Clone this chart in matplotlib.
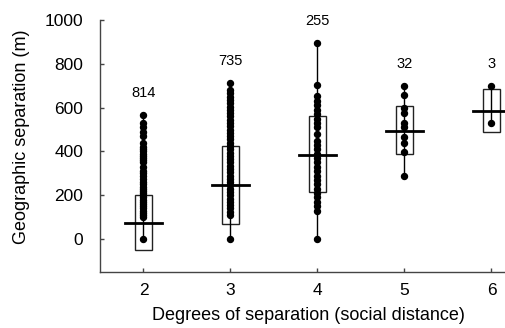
import matplotlib
matplotlib.use("Agg")
import matplotlib.pyplot as plt
from matplotlib.patches import Rectangle

plt.rcParams['font.family'] = ['Liberation Sans', 'DejaVu Sans']

degrees = [2, 3, 4, 5, 6]
counts = ["814", "735", "255", "32", "3"]
means = [73, 245, 386, 494, 585]
box_low = [-49, 70, 213, 388, 489]
box_high = [202, 427, 564, 608, 684]

pts_2 = [0, 100, 110, 120, 130, 140, 150, 160, 170, 180, 190, 200, 210, 220, 230,
         240, 250, 260, 275, 290, 300, 310, 330, 350, 360, 370, 380, 390, 400, 410,
         420, 440, 470, 490, 510, 530, 565]
pts_3 = [0, 110, 125, 140, 155, 170, 185, 200, 215, 230, 245, 260, 275, 290, 305,
         320, 335, 350, 365, 380, 395, 410, 425, 440, 455, 470, 485, 500, 515, 530,
         545, 560, 575, 590, 605, 620, 635, 650, 665, 680, 711]
pts_4 = [0, 130, 150, 170, 190, 210, 230, 250, 270, 290, 310, 330, 350, 370, 390,
         410, 430, 450, 480, 510, 530, 550, 570, 590, 610, 630, 655, 702, 894]
pts_5 = [286, 397, 438, 465, 511, 529, 574, 597, 657, 699]
pts_6 = [532, 699]
points = [pts_2, pts_3, pts_4, pts_5, pts_6]

fig = plt.figure(figsize=(5.06, 3.28), dpi=100)
ax = fig.add_axes([100/506, 1-272/328, 435/506, 252/328])
ax.set_xlim(1.5, 6.5)
ax.set_ylim(-150, 1000)

box_w = 0.2
med_w = 0.43
for x, pts, m, lo, hi, c in zip(degrees, points, means, box_low, box_high, counts):
    ax.plot([x, x], [min(pts), max(pts)], color='black', lw=1, zorder=2)
    ax.add_patch(Rectangle((x - box_w/2, lo), box_w, hi - lo, fill=False,
                           edgecolor='#222222', lw=1, zorder=1))
    ax.plot([x]*len(pts), pts, 'o', color='black', ms=4.3, zorder=3)
    ax.plot([x - med_w/2, x + med_w/2], [m, m], color='black', lw=2, zorder=4)
    ax.text(x, max(pts) + 100, c, ha='center', va='center', fontsize=10.5)

ax.set_xticks(degrees)
ax.set_yticks([0, 200, 400, 600, 800, 1000])
ax.tick_params(axis='both', direction='in', length=3, width=1, labelsize=12.5,
               colors='#444444', labelcolor='black')
ax.tick_params(axis='y', pad=12)
ax.tick_params(axis='x', pad=8)
for s in ['top', 'right']:
    ax.spines[s].set_visible(False)
for s in ['left', 'bottom']:
    ax.spines[s].set_color('#444444')
    ax.spines[s].set_linewidth(1)

fig.text(22/506, 1-137/328, "Geographic separation (m)", rotation=90,
         ha='center', va='center', fontsize=13)
fig.text(308/506, 1-316/328, "Degrees of separation (social distance)",
         ha='center', va='center', fontsize=13)

fig.savefig("out.png", dpi=100)
